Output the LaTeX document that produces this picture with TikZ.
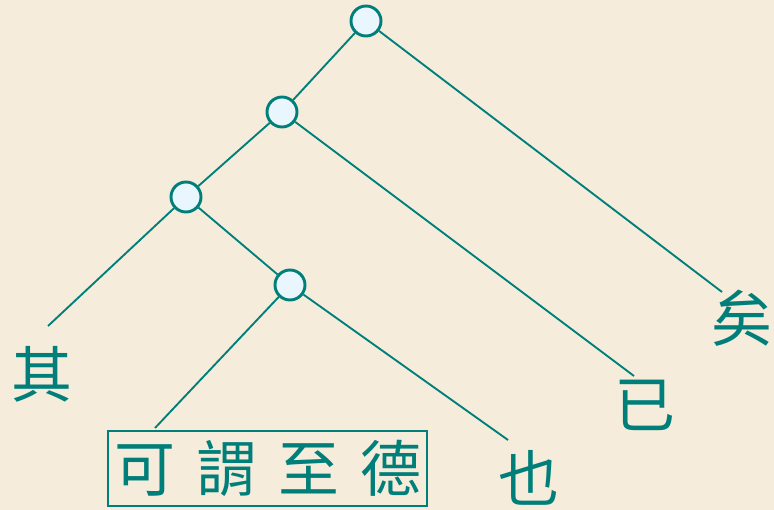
\documentclass[tikz,border=0pt]{standalone}
\usepackage{fontspec}
\newfontfamily\cjk{Noto Sans CJK TC}
\definecolor{treeline}{HTML}{007F7A}
\definecolor{paper}{HTML}{F5ECDB}
\definecolor{nodefill}{HTML}{EAF6FD}
\begin{document}
\begin{tikzpicture}[x=0.03cm,y=-0.03cm]

      \tikzset{branch/.style={draw=treeline, circle, inner sep=0pt, minimum size=.9cm, line width=2.5pt, fill=nodefill},
               word/.style={text=treeline, inner sep=0pt, font=\cjk\fontsize{52}{52}\selectfont}}
      \fill[paper] (0,0) rectangle (774,510);
      \useasboundingbox (0,0) rectangle (774,510);
%% Inner nodes
      	\node[branch] (n1) at (366,21) {};
      	\node[branch] (n2) at (282,112) {};
    	\node[branch] (n3) at (186,197) {};
  	    \node[branch] (n4) at (290,285) {};
%% Leaves
     	\node[word] (qi) at (42,374) {其};
     	\node[word] (yiA) at (742,318) {矣};
     	\node[word] (yiB) at (645,405) {已};
     	\node[word] (ye) at (529,478) {也};
     	\node[word, draw=treeline, line width=1.6pt, minimum width=9.57cm, minimum height=2.25cm] (kw) at (267.5,468.5)
     	  {可\hspace{18pt}謂\hspace{18pt}至\hspace{18pt}德};
%% Leaf ends
     	\coordinate (qiT) at (48,326);
     	\coordinate (yiAT) at (722,292);
     	\coordinate (yiBT) at (634,376);
     	\coordinate (yeT) at (508,440);
     	\coordinate (kwT) at (155,428);
%Edges
		\path [-, draw=treeline, line width=1.6pt] (n1) edge (n2);
		\path [-, draw=treeline, line width=1.6pt] (n1) edge (yiAT);
		\path [-, draw=treeline, line width=1.6pt] (n2) edge (n3);
		\path [-, draw=treeline, line width=1.6pt] (n2) edge (yiBT);
		\path [-, draw=treeline, line width=1.6pt] (n3) edge (qiT);
		\path [-, draw=treeline, line width=1.6pt] (n3) edge (n4);
		\path [-, draw=treeline, line width=1.6pt] (n4) edge (kwT);
		\path [-, draw=treeline, line width=1.6pt] (n4) edge (yeT);

	\end{tikzpicture}
\end{document}
